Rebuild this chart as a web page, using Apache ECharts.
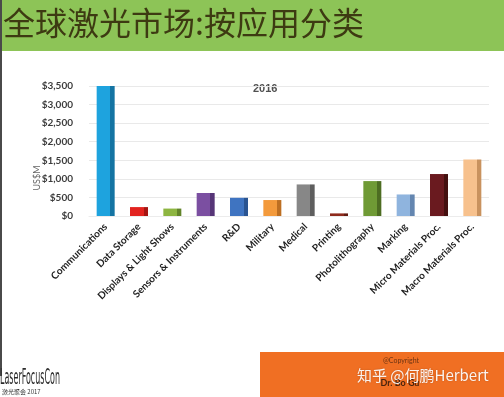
<!DOCTYPE html>
<html>
<head>
<meta charset="utf-8">
<title>全球激光市场:按应用分类</title>
<script src="https://cdn.jsdelivr.net/npm/echarts@6/dist/echarts.min.js"></script>
<style>
  html, body { margin: 0; padding: 0; background: #fff; }
  #chart { width: 504px; height: 397px; }
</style>
</head>
<body>
<div id="chart"></div>
<script>
// data (US$M, 2016)
const categories = ['Communications', 'Data Storage', 'Displays & Light Shows', 'Sensors & Instruments',
  'R&D', 'Military', 'Medical', 'Printing', 'Photolithography', 'Marking',
  'Micro Materials Proc.', 'Macro Materials Proc.']
const values = [3500, 240, 200, 620, 490, 430, 850, 70, 940, 580, 1130, 1520]
const barColors = ['#1ea3de', '#e2231f', '#8db541', '#7b4fa1', '#3f74c1', '#f39a3c',
  '#878787', '#8e2a1c', '#6f9a35', '#8fb4de', '#6a1a1f', '#f7c18d']
const sideColors = ['#1474a3', '#a51512', '#62842a', '#563577', '#2a5491', '#bd6f22',
  '#5e5e5e', '#611a10', '#4d6d22', '#6486b0', '#44100f', '#c9925e']
const yTicks = [0, 3500, 500]

const chartInstance = echarts.init(document.getElementById('chart'), null, { renderer: 'canvas' })

// fake the 3d side face with a hard-stop gradient
const barData = values.map((v, i) => {
  return {
    value: v,
    itemStyle: {
      color: new echarts.graphic.LinearGradient(0, 0, 1, 0, [
        { offset: 0, color: barColors[i] },
        { offset: 0.76, color: barColors[i] },
        { offset: 0.76, color: sideColors[i] },
        { offset: 1, color: sideColors[i] }
      ])
    }
  }
})

const option = {
  animation: false,
  backgroundColor: '#fff',
  grid: {
    left: 89,
    right: 15,
    top: 86,
    bottom: 181
  },
  xAxis: {
    type: 'category',
    data: categories,
    axisLine: { show: true, lineStyle: { color: '#ececec' } },
    axisTick: { show: false },
    axisLabel: {
      interval: 0,
      rotate: 45,
      margin: 9,
      fontFamily: 'Lato',
      fontWeight: 'bold',
      fontSize: 10,
      color: '#1e1e1e'
    }
  },
  yAxis: {
    type: 'value',
    min: yTicks[0],
    max: yTicks[1],
    interval: yTicks[2],
    axisLine: { show: false },
    axisTick: { show: false },
    splitLine: { lineStyle: { color: '#e9e9e9' } },
    axisLabel: {
      margin: 16,
      fontFamily: 'Lato',
      fontWeight: 'bold',
      fontSize: 10,
      color: '#3c3c3c',
      formatter: (v) => '$' + v.toLocaleString('en-US')
    }
  },
  series: [
    {
      type: 'bar',
      data: barData,
      barWidth: 18
    }
  ],
  graphic: [
    // green title band
    { type: 'rect', left: 0, top: 0, shape: { width: 504, height: 51 }, style: { fill: '#8dc457' }, z: 0 },
    {
      type: 'text', left: 3, top: 7,
      style: { text: '全球激光市场:按应用分类', fontFamily: 'Noto Sans CJK SC', fontSize: 32, fontWeight: 'normal', fill: '#3d3a12' }
    },
    // dark edge on the left
    { type: 'rect', left: 0, top: 0, shape: { width: 2, height: 376 }, style: { fill: '#4a4a4a' } },
    {
      type: 'text', left: 253, top: 83,
      style: { text: '2016', fontFamily: 'Liberation Sans', fontWeight: 'bold', fontSize: 11, fill: '#505050' }
    },
    {
      type: 'text', x: 37, y: 178, rotation: Math.PI / 2,
      style: { text: 'US$M', fontFamily: 'Lato', fontSize: 9, fill: '#666', align: 'center', verticalAlign: 'middle' }
    },
    // orange copyright box
    { type: 'rect', left: 260, top: 352, shape: { width: 244, height: 45 }, style: { fill: '#f06f23' } },
    {
      type: 'text', x: 401, y: 361,
      style: { text: '@Copyright', fontFamily: 'Lato', fontSize: 7, fill: '#6b3414', align: 'center', verticalAlign: 'middle' }
    },
    {
      type: 'text', x: 400, y: 383,
      style: { text: 'Dr. Bo Gu', fontFamily: 'Lato', fontWeight: 'bold', fontSize: 9, fill: '#4a240e', align: 'center', verticalAlign: 'middle' }
    },
    {
      type: 'text', x: 357, y: 375,
      style: {
        text: '知乎 @何鹏Herbert', fontFamily: 'Noto Sans CJK SC', fontSize: 15, fill: 'rgba(255,255,255,0.92)',
        verticalAlign: 'middle', textShadowColor: 'rgba(0,0,0,0.25)', textShadowBlur: 2
      }
    },
    // conference logo
    {
      type: 'text', x: 0, y: 379, scaleX: 0.38,
      style: { text: 'LaserFocusCon', fontFamily: 'DejaVu Sans', fontSize: 21, fill: '#2b2b2b', verticalAlign: 'middle' }
    },
    {
      type: 'text', x: 2, y: 392,
      style: { text: '激光聚会 2017', fontFamily: 'Noto Sans CJK SC', fontSize: 6, fill: '#333', verticalAlign: 'middle' }
    }
  ]
}

chartInstance.setOption(option)
</script>
</body>
</html>
